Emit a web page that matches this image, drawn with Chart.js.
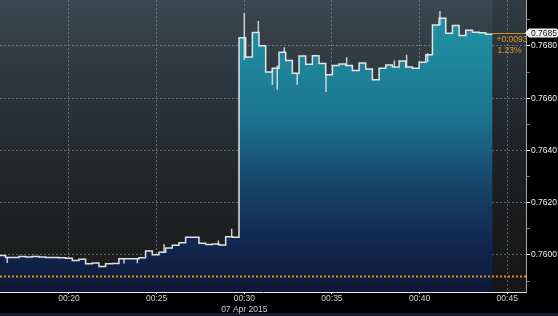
<!DOCTYPE html>
<html lang="en">
<head>
    <meta charset="UTF-8">
    <title>AUD intraday</title>
    <script src="https://cdn.jsdelivr.net/npm/chart.js"></script>
    <style>
        html, body { margin: 0; padding: 0; background: #000; }
    </style>
</head>
<body>
    <canvas id="priceChart" width="558" height="316"></canvas>
    <script>
        // minutes past midnight, 07 Apr 2015
        const firstBarMinute = 16.0;
        const barMinutes = 0.3805;
        const viewFrom = 16.064;
        const viewTo = 46.07;

        // one close per bar
        const prices = [
            0.75998, 0.75990, 0.75990, 0.75994, 0.75992, 0.75994, 0.75992, 0.75990, 0.75990, 0.75989,
            0.75987, 0.75979, 0.75983, 0.75966, 0.75969, 0.75956, 0.75966, 0.75967, 0.75985, 0.75985,
            0.75985, 0.75989, 0.76015, 0.76001, 0.76010, 0.76026, 0.76037, 0.76047, 0.76068, 0.76068,
            0.76045, 0.76040, 0.76042, 0.76038, 0.76070, 0.76068, 0.76831, 0.76758, 0.76852, 0.76801,
            0.76700, 0.76715, 0.76776, 0.76744, 0.76696, 0.76762, 0.76730, 0.76763, 0.76733, 0.76690,
            0.76725, 0.76731, 0.76725, 0.76706, 0.76735, 0.76712, 0.76671, 0.76715, 0.76727, 0.76719,
            0.76742, 0.76719, 0.76715, 0.76738, 0.76766, 0.76880, 0.76906, 0.76849, 0.76878, 0.76840,
            0.76860, 0.76853, 0.76851, 0.76845
        ];

        // spikes poking past the steps: time, high, low
        const wickMinutes = [16.48, 23.14, 23.90, 25.42, 28.52, 29.28, 30.00, 30.80, 31.60, 31.88,
                             32.28, 33.02, 34.66, 35.84, 38.56, 39.26, 40.46, 41.16];
        const wickHighs = [0.75990, 0.75984, 0.75985, 0.76042, 0.76055, 0.76100, 0.76925, 0.76896, 0.76715, 0.76725,
                           0.76795, 0.76696, 0.76690, 0.76757, 0.76744, 0.76766, 0.76772, 0.76934];
        const wickLows = [0.75969, 0.75967, 0.75968, 0.76011, 0.76038, 0.76069, 0.76746, 0.76852, 0.76651, 0.76632,
                          0.76776, 0.76651, 0.76624, 0.76725, 0.76719, 0.76719, 0.76738, 0.76880];

        const prevClose = 0.7592;
        const lastPrice = 0.7685;
        const netChange = '+0.0093';
        const pctChange = '1.23%';

        const xTicks = [20, 25, 30, 35, 40, 45];
        const xTickLabels = ['00:20', '00:25', ['00:30', '07 Apr 2015'], '00:35', '00:40', '00:45'];
        const yTicks = [0.759, 0.760, 0.761, 0.762, 0.763, 0.764, 0.765, 0.766, 0.767, 0.768, 0.769];
        const yMin = 0.75858;
        const yMax = 0.76976;

        const FONT = "'Liberation Sans', Arial, sans-serif";
        const lastBarEnd = firstBarMinute + prices.length * barMinutes;

        const points = prices.map((p, i) => ({ x: firstBarMinute + i * barMinutes, y: p }));
        points.push({ x: lastBarEnd, y: prices[prices.length - 1] });

        const wickPoints = [];
        wickMinutes.forEach((m, i) => {
            wickPoints.push({ x: m, y: wickHighs[i] }, { x: m, y: wickLows[i] }, { x: m, y: null });
        });

        function isMajor(v) {
            return Math.round(v * 1000) % 2 === 0;
        }

        // panel background, orange lines, last price tag
        const panelDecor = {
            id: 'panelDecor',
            beforeDraw(chart) {
                const { ctx, chartArea: a, width, height } = chart;
                ctx.save();
                ctx.fillStyle = '#000';
                ctx.fillRect(0, 0, width, height);
                const g = ctx.createLinearGradient(0, a.top, 0, a.bottom);
                g.addColorStop(0, '#3a4851');
                g.addColorStop(0.3, '#2d353c');
                g.addColorStop(0.55, '#24282b');
                g.addColorStop(0.8, '#1e1f20');
                g.addColorStop(1, '#1b1b1b');
                ctx.fillStyle = g;
                ctx.fillRect(a.left, a.top, a.right - a.left, a.bottom - a.top);
                const endX = chart.scales.x.getPixelForValue(lastBarEnd);
                ctx.fillStyle = 'rgba(0,0,0,0.16)';
                ctx.fillRect(endX, a.top, a.right - endX, a.bottom - a.top);
                ctx.fillStyle = '#141b38';
                ctx.fillRect(0, height - 3, width, 3);
                ctx.restore();
            },
            afterDatasetsDraw(chart) {
                const { ctx, chartArea: a } = chart;
                const y = chart.scales.y;
                const endX = chart.scales.x.getPixelForValue(lastBarEnd);
                ctx.save();
                // previous close
                const pc = Math.round(y.getPixelForValue(prevClose)) + 0.5;
                ctx.strokeStyle = '#e08a1c';
                ctx.lineWidth = 2;
                ctx.setLineDash([2, 2]);
                ctx.beginPath();
                ctx.moveTo(a.left, pc);
                ctx.lineTo(a.right, pc);
                ctx.stroke();
                // last price
                const lp = Math.round(y.getPixelForValue(lastPrice)) + 0.5;
                ctx.setLineDash([]);
                ctx.lineWidth = 1;
                ctx.strokeStyle = '#d08a2a';
                ctx.beginPath();
                ctx.moveTo(endX, lp);
                ctx.lineTo(a.right, lp);
                ctx.stroke();
                ctx.fillStyle = '#e39b2b';
                ctx.font = '8.5px ' + FONT;
                ctx.textBaseline = 'middle';
                ctx.fillText(netChange, endX + 4, lp + 6);
                ctx.fillText(pctChange, endX + 5, lp + 17);
                ctx.restore();
            },
            afterDraw(chart) {
                const { ctx, chartArea: a, width } = chart;
                const ty = Math.round(chart.scales.y.getPixelForValue(lastPrice));
                ctx.save();
                ctx.fillStyle = '#f4f4f4';
                ctx.beginPath();
                ctx.moveTo(a.right - 1, ty);
                ctx.lineTo(a.right + 3, ty - 4.5);
                ctx.lineTo(width - 2, ty - 4.5);
                ctx.quadraticCurveTo(width, ty - 4.5, width, ty - 2.5);
                ctx.lineTo(width, ty + 2.5);
                ctx.quadraticCurveTo(width, ty + 4.5, width - 2, ty + 4.5);
                ctx.lineTo(a.right + 3, ty + 4.5);
                ctx.closePath();
                ctx.fill();
                ctx.fillStyle = '#101010';
                ctx.font = '8.5px ' + FONT;
                ctx.textBaseline = 'middle';
                ctx.fillText(lastPrice.toFixed(4), a.right + 5, ty + 0.5);
                ctx.restore();
            }
        };

        const ctx = document.getElementById('priceChart').getContext('2d');
        new Chart(ctx, {
            type: 'line',
            data: {
                datasets: [{
                    data: points,
                    stepped: true,
                    borderColor: 'rgba(236,236,236,0.95)',
                    borderWidth: 1.5,
                    pointRadius: 0,
                    fill: 'start',
                    order: 2,
                    backgroundColor: (c) => {
                        const area = c.chart.chartArea;
                        if (!area) return '#1b6f8e';
                        const g = c.chart.ctx.createLinearGradient(0, area.top, 0, area.bottom);
                        g.addColorStop(0, '#2398ab');
                        g.addColorStop(0.2, '#1e879b');
                        g.addColorStop(0.41, '#1b7290');
                        g.addColorStop(0.62, '#17476d');
                        g.addColorStop(0.8, '#122b55');
                        g.addColorStop(1, '#0e1838');
                        return g;
                    }
                }, {
                    data: wickPoints,
                    borderColor: 'rgba(230,230,230,0.85)',
                    borderWidth: 1.5,
                    pointRadius: 0,
                    fill: false,
                    spanGaps: false,
                    order: 1
                }]
            },
            options: {
                responsive: false,
                animation: false,
                layout: { padding: 0 },
                plugins: {
                    legend: { display: false },
                    tooltip: { enabled: false }
                },
                scales: {
                    x: {
                        type: 'linear',
                        min: viewFrom,
                        max: viewTo,
                        z: 1,
                        afterBuildTicks: (s) => { s.ticks = xTicks.map(v => ({ value: v })); },
                        afterFit: (s) => { s.height = 24; s.paddingLeft = 0; s.paddingRight = 0; },
                        ticks: {
                            autoSkip: false,
                            maxRotation: 0,
                            padding: 0,
                            color: '#d2d2d2',
                            font: { family: FONT, size: 8.5 },
                            callback: (v) => xTickLabels[xTicks.indexOf(v)]
                        },
                        grid: {
                            color: 'rgba(140,150,158,0.6)',
                            tickColor: '#e8e8e8',
                            tickLength: 2
                        },
                        border: { color: '#e6e6e6', width: 1, dash: [2, 2] }
                    },
                    y: {
                        position: 'right',
                        min: yMin,
                        max: yMax,
                        z: 1,
                        afterBuildTicks: (s) => { s.ticks = yTicks.map(v => ({ value: v })); },
                        afterFit: (s) => { s.width = 32; s.paddingTop = 0; s.paddingBottom = 0; },
                        ticks: {
                            padding: 1,
                            color: '#f2f2f2',
                            font: { family: FONT, size: 8.5 },
                            callback: (v) => isMajor(v) ? v.toFixed(4) : ''
                        },
                        grid: {
                            color: (c) => c.tick && !isMajor(c.tick.value) ? 'rgba(0,0,0,0)' : 'rgba(140,150,158,0.6)',
                            tickColor: (c) => c.tick && !isMajor(c.tick.value) ? '#777' : '#f2f2f2',
                            tickLength: 4
                        },
                        border: { color: '#a8a8a8', width: 1, dash: [2, 2] }
                    }
                }
            },
            plugins: [panelDecor]
        });
    </script>
</body>
</html>
